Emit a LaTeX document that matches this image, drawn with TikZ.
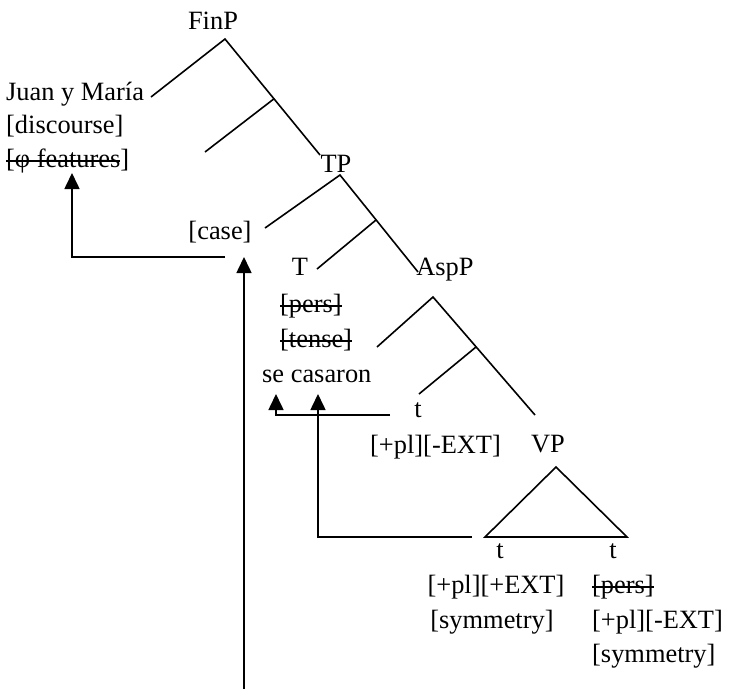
\documentclass[tikz,border=0pt]{standalone}
\usepackage{fontspec}
\setmainfont{Liberation Serif}
\usetikzlibrary{arrows.meta}
\newcommand{\strk}[1]{\begingroup\setbox0=\hbox{#1}\rlap{\raisebox{0.2em}{\rule{\wd0}{1.6pt}}}\box0\endgroup}
\newcommand{\strkp}[2]{\begingroup\setbox0=\hbox{#1}\rlap{\raisebox{0.2em}{\rule{\wd0}{1.6pt}}}\box0#2\endgroup}
\begin{document}
\begin{tikzpicture}[x=1pt,y=-1pt,
  lbl/.style={inner sep=0pt,font=\fontsize{26.4}{30}\selectfont},
  branch/.style={line width=1.6pt},
  arr/.style={line width=1.6pt,-{Triangle[width=15pt,length=16pt]}}]
\useasboundingbox (0,0) rectangle (729,689);
% texts
\node[lbl,anchor=base] (finp) at (213,29) {FinP};
\node[lbl,anchor=base west] (juan) at (6,100) {Juan y María};
\node[lbl,anchor=base west] (disc) at (6,133) {[discourse]};
\node[lbl,anchor=base west] (phi) at (6,167) {\strkp{[φ features}{]}};
\node[lbl,anchor=base] (tp) at (336,172) {TP};
\node[lbl,anchor=base] (case) at (220,239) {[case]};
\node[lbl,anchor=base] (t) at (300,275) {T};
\node[lbl,anchor=base] (aspp) at (445,275) {AspP};
\node[lbl,anchor=base west] (pers) at (280,312) {\strk{[pers]}};
\node[lbl,anchor=base west] (tense) at (280,347) {\strk{[tense]}};
\node[lbl,anchor=base west] (secas) at (262,382) {se casaron};
\node[lbl,anchor=base] (tasp) at (418,417) {t};
\node[lbl,anchor=base west] (plext) at (370,453) {[+pl][-EXT]};
\node[lbl,anchor=base] (vp) at (548,452) {VP};
\node[lbl,anchor=base] (tl) at (500,558) {t};
\node[lbl,anchor=base] (tr) at (613,558) {t};
\node[lbl,anchor=base] (plpext) at (496,593) {[+pl][+EXT]};
\node[lbl,anchor=base] (syml) at (492,628) {[symmetry]};
\node[lbl,anchor=base west] (persr) at (592,593) {\strk{[pers]}};
\node[lbl,anchor=base west] (plextr) at (592,628) {[+pl][-EXT]};
\node[lbl,anchor=base west] (symr) at (592,662) {[symmetry]};
% tree points
\coordinate (fin) at (225,39);
\coordinate (finL) at (151,97);
\coordinate (finR) at (320,155);
\coordinate (finM) at (274,98.8);
\coordinate (finML) at (205,152);
\coordinate (tpA) at (340,175);
\coordinate (tpL) at (265,228);
\coordinate (tpR) at (418,272);
\coordinate (tpM) at (376,220);
\coordinate (tpML) at (317,269);
\coordinate (aspA) at (433,297);
\coordinate (aspL) at (377,347);
\coordinate (aspR) at (535,415);
\coordinate (aspM) at (476,347);
\coordinate (aspML) at (419,394);
\coordinate (vpA) at (556,467);
\coordinate (vpL) at (485,537);
\coordinate (vpR) at (627,537);
% tree
\draw[branch] (finL) -- (fin) -- (finR);
\draw[branch] (finM) -- (finML);
\draw[branch] (tpL) -- (tpA) -- (tpR);
\draw[branch] (tpM) -- (tpML);
\draw[branch] (aspL) -- (aspA) -- (aspR);
\draw[branch] (aspM) -- (aspML);
\draw[branch,line join=miter] (vpA) -- (vpL) -- (vpR) -- cycle;
% arrows
\coordinate (a1s) at (225,257);
\coordinate (a1c) at (72,257);
\coordinate (a1e) at (72,173);
\draw[arr] (a1s) -- (a1c) -- (a1e);
\coordinate (a2s) at (244,689);
\coordinate (a2e) at (244,257);
\draw[arr] (a2s) -- (a2e);
\coordinate (a3s) at (390,415);
\coordinate (a3c) at (276,415);
\coordinate (a3e) at (276,394);
\draw[arr] (a3s) -- (a3c) -- (a3e);
\coordinate (a4s) at (472,537);
\coordinate (a4c) at (318,537);
\coordinate (a4e) at (318,394);
\draw[arr] (a4s) -- (a4c) -- (a4e);
\end{tikzpicture}
\end{document}
